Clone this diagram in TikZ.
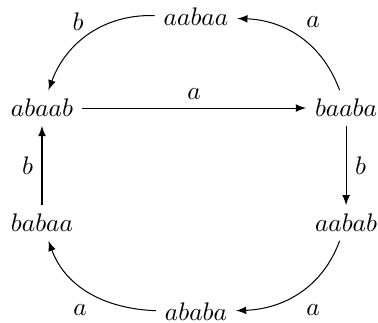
\documentclass[tikz,border=0pt]{standalone}
\usetikzlibrary{arrows.meta}

\begin{document}
\begin{tikzpicture}[move/.style={-latex}]
  \useasboundingbox (0,0) rectangle (5.23,4.456);
  \node (aabaa) at (2.712,4.22) {$aabaa$};
  \node (abaab) at (0.581,2.961) {$abaab$};
  \node (baaba) at (4.788,2.961) {$baaba$};
  \node (babaa) at (0.581,1.370) {$babaa$};
  \node (aabab) at (4.788,1.370) {$aabab$};
  \node (ababa) at (2.712,0.138) {$ababa$};
  % labels of the curved moves
  \node (lbtl) at (1.079,4.151) {$b$};
  \node (latr) at (4.331,4.151) {$a$};
  \node (labl) at (1.107,0.166) {$a$};
  \node (labr) at (4.331,0.166) {$a$};
  \draw[move] (abaab) -- node[above] {$a$} (baaba);
  \draw[move] (baaba) -- node[right] {$b$} (aabab);
  \draw[move] (babaa) -- node[left] {$b$} (abaab);
  \draw[move] (aabaa) to[out=178,in=70] (abaab);
  \draw[move] (baaba) to[out=110,in=-2] (aabaa);
  \draw[move] (aabab) to[out=-110,in=2] (ababa);
  \draw[move] (ababa) to[out=178,in=-70] (babaa);
\end{tikzpicture}
\end{document}
